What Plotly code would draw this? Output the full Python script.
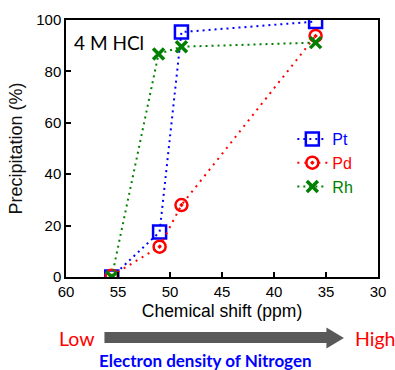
import plotly.graph_objects as go

# Chemical shift (ppm) and precipitation (%) for each metal
pt_shift = [55.6, 51.0, 48.9, 36.0]
pt_precip = [0.0, 17.5, 95.3, 99.4]
pd_shift = [55.6, 51.0, 48.9, 36.0]
pd_precip = [0.5, 11.8, 28.0, 93.8]
rh_shift = [55.6, 51.1, 48.9, 36.0]
rh_precip = [0.0, 86.8, 89.6, 91.2]

x_ticks = [60, 55, 50, 45, 40, 35, 30]
y_ticks = [0, 20, 40, 60, 80, 100]

W, H = 395, 370
L, R, T, B = 65.5, 386, 20, 277

def px(x):
    return (x - L) / (R - L)

def py(y):
    return (B - y) / (B - T)

font = "Liberation Sans, Arial, sans-serif"
calibri = "Lato, Carlito, Calibri, sans-serif"

BLUE, RED, GREEN = "#0000ff", "#ff0000", "#008000"

fig = go.Figure()
fig.add_trace(go.Scatter(
    x=pt_shift, y=pt_precip, mode="lines+markers",
    name=f"<span style='color:{BLUE}'>Pt</span>",
    line=dict(color=BLUE, width=2, dash="2px,4px"),
    marker=dict(symbol="square-open", size=13, color=BLUE, line=dict(width=2.5)),
))
fig.add_trace(go.Scatter(
    x=pd_shift, y=pd_precip, mode="lines+markers",
    name=f"<span style='color:{RED}'>Pd</span>",
    line=dict(color=RED, width=2, dash="2px,5px"),
    marker=dict(symbol="circle-open-dot", size=12, color=RED, line=dict(width=2.5)),
))
fig.add_trace(go.Scatter(
    x=rh_shift, y=rh_precip, mode="lines+markers",
    name=f"<span style='color:{GREEN}'>Rh</span>",
    line=dict(color=GREEN, width=2, dash="2px,4px"),
    marker=dict(symbol="x-thin", size=11, color=GREEN, line=dict(width=3.5, color=GREEN)),
))

axis_common = dict(
    showline=True, linecolor="black", linewidth=1.5, mirror=True,
    ticks="inside", ticklen=5, tickwidth=1.5, tickcolor="black",
    showgrid=False, zeroline=False,
    tickfont=dict(family=font, size=15, color="black"),
)

fig.update_layout(
    width=W, height=H,
    margin=dict(l=L, r=W - R, t=T, b=H - B),
    paper_bgcolor="white", plot_bgcolor="white",
    xaxis=dict(range=[60, 30], tickvals=x_ticks, **axis_common,
               title=dict(text="Chemical shift (ppm)", standoff=6,
                          font=dict(family=font, size=17.5, color="black"))),
    yaxis=dict(range=[0, 100], tickvals=y_ticks, **axis_common,
               title=dict(text="Precipitation (%)", standoff=9,
                          font=dict(family=font, size=18, color="#111111"))),
    showlegend=True,
    legend=dict(x=px(298), y=py(122), xanchor="left", yanchor="top",
                bgcolor="rgba(0,0,0,0)", font=dict(family=font, size=16),
                itemwidth=30, tracegroupgap=0),
)

fig.add_annotation(x=px(72), y=py(42), xref="paper", yref="paper",
                   text="4 M HCl", showarrow=False, xanchor="left", yanchor="middle",
                   font=dict(family=calibri, size=19, color="black"))

# Electron density arrow below the axis
body_top, body_bot = py(332), py(343)
head_top, head_bot = py(327.5), py(348.5)
mid = py(338)
x0, x1, x2 = px(105), px(333), px(351)
fig.add_shape(type="path", xref="paper", yref="paper",
              path=(f"M {x0} {body_top} L {x1} {body_top} L {x1} {head_top} "
                    f"L {x2} {mid} L {x1} {head_bot} L {x1} {body_bot} "
                    f"L {x0} {body_bot} Z"),
              fillcolor="#595959", line=dict(width=0))

fig.add_annotation(x=px(56), y=mid, xref="paper", yref="paper",
                   text="Low", showarrow=False, xanchor="left", yanchor="middle",
                   font=dict(family=calibri, size=19.5, color=RED))
fig.add_annotation(x=px(360.5), y=mid, xref="paper", yref="paper",
                   text="High", showarrow=False, xanchor="left", yanchor="middle",
                   font=dict(family=calibri, size=19.5, color=RED))
fig.add_annotation(x=px(209), y=py(360), xref="paper", yref="paper",
                   text="<b>Electron density of Nitrogen</b>", showarrow=False,
                   yanchor="middle",
                   font=dict(family=calibri, size=17, color=BLUE))

fig.write_html("out.html")
